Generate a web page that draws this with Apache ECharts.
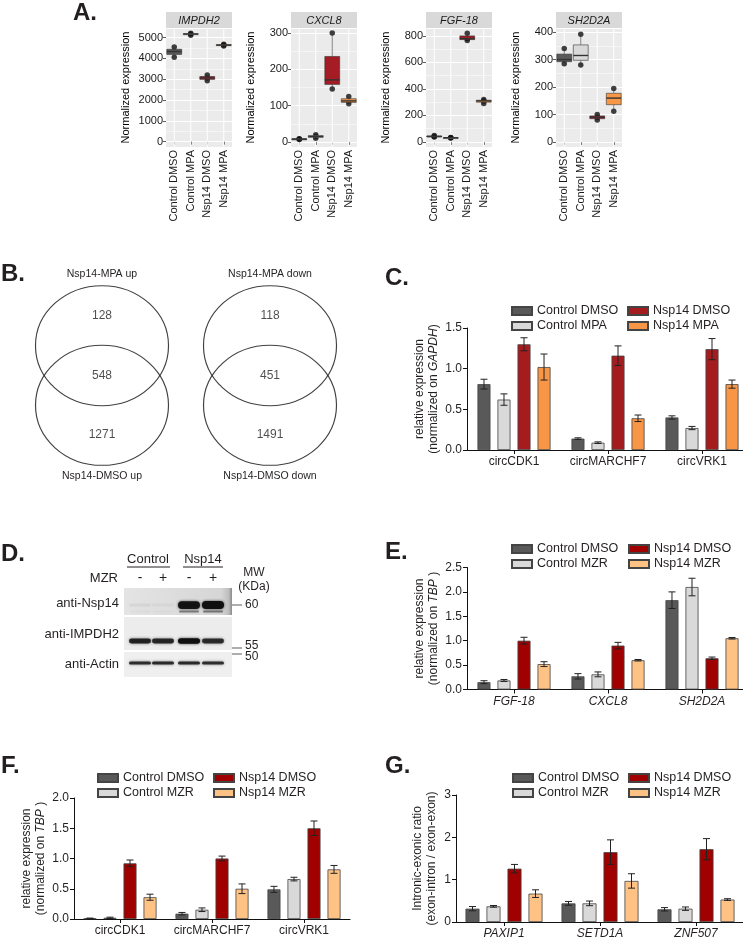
<!DOCTYPE html>
<html><head><meta charset="utf-8">
<script src="https://cdn.jsdelivr.net/npm/echarts@6/dist/echarts.min.js"></script>
<style>html,body{margin:0;padding:0;background:#fff}#c{width:743px;height:940px}</style>
</head><body><div id="c"></div>
<script>
// ---------------- DATA ----------------
// Panel A (replicate normalized expression values)
const aCategories = ['Control DMSO', 'Control MPA', 'Nsp14 DMSO', 'Nsp14 MPA'];
const aGenes = ['IMPDH2', 'CXCL8', 'FGF-18', 'SH2D2A'];
const aIMPDH2 = [[4050, 4330, 4550], [5110, 5170, 5210], [2920, 3060, 3200], [4600, 4640, 4680]];
const aCXCL8 = [[7, 8, 9], [10, 15, 20], [146, 171, 300], [105, 113, 125]];
const aFGF18 = [[38, 42, 48], [30, 32, 34], [765, 780, 820], [290, 310, 320]];
const aSH2D2A = [[285, 300, 340], [280, 315, 392], [80, 90, 100], [112, 160, 195]];

// Panel B (Venn counts)
const vennTop = ['Nsp14-MPA up', 'Nsp14-MPA down'];
const vennBottom = ['Nsp14-DMSO up', 'Nsp14-DMSO down'];
const vennMPAonly = [128, 118];
const vennBoth = [548, 451];
const vennDMSOonly = [1271, 1491];

// Panel C
const cCategories = ['circCDK1', 'circMARCHF7', 'circVRK1'];
const cNames = ['Control DMSO', 'Control MPA', 'Nsp14 DMSO', 'Nsp14 MPA'];
const cControlDMSO = [0.81, 0.14, 0.40];
const cControlMPA = [0.62, 0.09, 0.27];
const cNsp14DMSO = [1.30, 1.16, 1.24];
const cNsp14MPA = [1.02, 0.39, 0.81];
const cErrControlDMSO = [0.06, 0.01, 0.02];
const cErrControlMPA = [0.07, 0.01, 0.02];
const cErrNsp14DMSO = [0.08, 0.12, 0.13];
const cErrNsp14MPA = [0.16, 0.04, 0.05];
const cTicks = ['0.0', '0.5', '1.0', '1.5'];

// Panel D (western blot)
const dGroups = ['Control', 'Nsp14'];
const dMZR = ['-', '+', '-', '+'];
const dAntibodies = ['anti-Nsp14', 'anti-IMPDH2', 'anti-Actin'];
const dBandNsp14 = [0.05, 0.04, 0.95, 1.0];
const dBandIMPDH2 = [0.85, 0.82, 1.0, 0.8];
const dBandActin = [0.8, 0.82, 0.82, 0.8];
const dMW = ['60', '55', '50'];

// Panel E
const eCategories = ['FGF-18', 'CXCL8', 'SH2D2A'];
const mzrNames = ['Control DMSO', 'Control MZR', 'Nsp14 DMSO', 'Nsp14 MZR'];
const eControlDMSO = [0.15, 0.27, 1.83];
const eControlMZR = [0.185, 0.31, 2.10];
const eNsp14DMSO = [1.00, 0.90, 0.64];
const eNsp14MZR = [0.52, 0.60, 1.05];
const eErrControlDMSO = [0.03, 0.055, 0.17];
const eErrControlMZR = [0.02, 0.05, 0.18];
const eErrNsp14DMSO = [0.07, 0.066, 0.025];
const eErrNsp14MZR = [0.05, 0.015, 0.015];
const eTicks = ['0.0', '0.5', '1.0', '1.5', '2.0', '2.5'];

// Panel F
const fCategories = ['circCDK1', 'circMARCHF7', 'circVRK1'];
const fControlDMSO = [0.01, 0.088, 0.49];
const fControlMZR = [0.02, 0.153, 0.66];
const fNsp14DMSO = [0.92, 1.00, 1.50];
const fNsp14MZR = [0.36, 0.50, 0.82];
const fErrControlDMSO = [0.005, 0.02, 0.05];
const fErrControlMZR = [0.01, 0.03, 0.03];
const fErrNsp14DMSO = [0.055, 0.04, 0.12];
const fErrNsp14MZR = [0.05, 0.08, 0.065];
const fTicks = ['0.0', '0.5', '1.0', '1.5', '2.0'];

// Panel G
const gCategories = ['PAXIP1', 'SETD1A', 'ZNF507'];
const gControlDMSO = [0.315, 0.44, 0.30];
const gControlMZR = [0.37, 0.44, 0.315];
const gNsp14DMSO = [1.26, 1.65, 1.72];
const gNsp14MZR = [0.67, 0.97, 0.53];
const gErrControlDMSO = [0.05, 0.045, 0.04];
const gErrControlMZR = [0.02, 0.055, 0.04];
const gErrNsp14DMSO = [0.10, 0.29, 0.25];
const gErrNsp14MZR = [0.09, 0.17, 0.02];
const gTicks = ['0', '1', '2', '3'];

// ---------------- STYLE / LAYOUT ----------------
const FONT = "'Liberation Sans', Arial, Helvetica, sans-serif";
const INK = '#231F20';
const aFill = ['#595959', '#D9D9D9', '#A51C24', '#F79646'];
const cColors = ['#595959', '#D9D9D9', '#A51C1F', '#F79646'];
const mColors = ['#595959', '#D9D9D9', '#A00000', '#FFC285'];

const chart = echarts.init(document.getElementById('c'), null, {renderer: 'canvas', width: 743, height: 940});

const grid = [], xAxis = [], yAxis = [], series = [], legend = [], graphic = [];

function addGrid(g) {
  grid.push(Object.assign({containLabel: false, outerBoundsMode: 'none', show: false, borderWidth: 0}, g));
  return grid.length - 1;
}

// ---------- Panel A ----------
const aData = [aIMPDH2, aCXCL8, aFGF18, aSH2D2A];
const aLefts = [166, 291, 426, 556];
const aRanges = [[-260, 5460, 1000], [-14, 314, 100], [-38, 860, 200], [-18, 415, 100]];

function boxStats(arr) {
  const s = arr.slice().sort((p, q) => p - q);
  const med = s[1];
  return [s[0], (s[0] + med) / 2, med, (med + s[2]) / 2, s[2]];
}

aData.forEach((reps, k) => {
  const gi = addGrid({left: aLefts[k], top: 28, width: 66, height: 119, show: true, backgroundColor: '#EBEBEB'});
  const xi = xAxis.length;
  xAxis.push({
    type: 'category', gridIndex: gi, data: aCategories,
    axisLine: {show: false},
    axisTick: {show: true, alignWithLabel: true, length: 3, lineStyle: {color: '#333', width: 0.8}},
    axisLabel: {rotate: 90, interval: 0, fontSize: 11, fontFamily: FONT, color: '#1A1A1A', margin: 3},
    splitLine: {show: false}
  });
  const yi = yAxis.length;
  yAxis.push({
    type: 'value', gridIndex: gi, min: aRanges[k][0], max: aRanges[k][1],
    minInterval: aRanges[k][2], maxInterval: aRanges[k][2],
    axisLine: {show: false},
    axisTick: {show: true, length: 3, lineStyle: {color: '#333', width: 0.8}},
    axisLabel: {fontSize: 11, fontFamily: FONT, color: '#1A1A1A', margin: 3, showMinLabel: false, showMaxLabel: false,
      formatter: v => String(v)},
    splitLine: {show: true, lineStyle: {color: '#FFFFFF', width: 1}},
    minorSplitLine: {show: true, lineStyle: {color: '#FFFFFF', width: 0.5}},
    minorTick: {show: false, splitNumber: 2},
    name: 'Normalized expression', nameLocation: 'middle', nameGap: 35, nameMoveOverlap: false,
    nameTextStyle: {fontSize: 11, fontFamily: FONT, color: '#000'}
  });
  // white vertical grid lines at category centres
  series.push({
    type: 'custom', xAxisIndex: xi, yAxisIndex: yi, z: 1, silent: true,
    data: aCategories.map((c, i) => [i, 0]),
    renderItem: function (params, api) {
      const x = api.coord([api.value(0), 0])[0];
      const cs = params.coordSys;
      return {type: 'line', shape: {x1: x, y1: cs.y, x2: x, y2: cs.y + cs.height}, style: {stroke: '#FFFFFF', lineWidth: 1}};
    }
  });
  // replicate points (drawn beneath the boxes, as in the original ggplot)
  const pts = [];
  reps.forEach((r, i) => r.forEach(v => pts.push([i, v])));
  series.push({type: 'scatter', xAxisIndex: xi, yAxisIndex: yi, z: 2, silent: true, symbolSize: 5.5,
    itemStyle: {color: '#111111'}, data: pts});
  // boxes
  series.push({
    type: 'custom', xAxisIndex: xi, yAxisIndex: yi, z: 3, silent: true,
    data: reps.map((r, i) => [i].concat(boxStats(r))),
    encode: {x: 0, y: [1, 2, 3, 4, 5]},
    renderItem: function (params, api) {
      const i = api.value(0);
      const c = v => api.coord([i, v]);
      const w = api.size([1, 0])[0] * 0.9;
      const pMin = c(api.value(1)), pQ1 = c(api.value(2)), pMd = c(api.value(3)), pQ3 = c(api.value(4)), pMax = c(api.value(5));
      const x = pMd[0];
      const st = {stroke: '#333333', lineWidth: 0.6};
      return {type: 'group', children: [
        {type: 'line', shape: {x1: x, y1: pMax[1], x2: x, y2: pQ3[1]}, style: st},
        {type: 'line', shape: {x1: x, y1: pQ1[1], x2: x, y2: pMin[1]}, style: st},
        {type: 'rect', shape: {x: x - w / 2, y: pQ3[1], width: w, height: Math.max(pQ1[1] - pQ3[1], 1)}, style: {fill: aFill[i], stroke: '#333333', lineWidth: 0.6}},
        {type: 'line', shape: {x1: x - w / 2, y1: pMd[1], x2: x + w / 2, y2: pMd[1]}, style: {stroke: '#333333', lineWidth: 1.4}}
      ]};
    }
  });
  // strip
  graphic.push({type: 'rect', shape: {x: aLefts[k], y: 12, width: 66, height: 16}, style: {fill: '#D9D9D9'}, silent: true});
  graphic.push({type: 'text', x: aLefts[k] + 33, y: 20.5, silent: true,
    style: {text: aGenes[k], font: 'italic 11px ' + FONT, fill: '#1A1A1A', align: 'center', verticalAlign: 'middle'}});
});

// ---------- Panel B (Venn) ----------
(function () {
  const gi = addGrid({left: 18, top: 283, width: 336, height: 185});
  const xi = xAxis.length;
  xAxis.push({type: 'category', gridIndex: gi, position: 'top', data: vennTop,
    axisLine: {show: false}, axisTick: {show: false}, splitLine: {show: false},
    axisLabel: {fontSize: 10.5, fontFamily: FONT, color: INK, margin: 3, interval: 0}});
  xAxis.push({type: 'category', gridIndex: gi, position: 'bottom', data: vennBottom,
    axisLine: {show: false}, axisTick: {show: false}, splitLine: {show: false},
    axisLabel: {fontSize: 10.5, fontFamily: FONT, color: INK, margin: 3, interval: 0}});
  const yi = yAxis.length;
  yAxis.push({type: 'value', gridIndex: gi, min: 0.45, max: 3.55, inverse: true, show: false, splitLine: {show: false}});
  const circles = [];
  vennTop.forEach((t, i) => { circles.push([i, 1.5]); circles.push([i, 2.5]); });
  series.push({type: 'scatter', xAxisIndex: xi, yAxisIndex: yi, silent: true, symbol: 'circle', symbolSize: [133, 120],
    itemStyle: {color: 'rgba(0,0,0,0)', borderColor: '#111', borderWidth: 1.1}, data: circles});
  const nums = [];
  vennTop.forEach((t, i) => {
    nums.push([i, 1, vennMPAonly[i]]);
    nums.push([i, 2, vennBoth[i]]);
    nums.push([i, 3, vennDMSOonly[i]]);
  });
  series.push({type: 'scatter', xAxisIndex: xi, yAxisIndex: yi, silent: true, symbolSize: 0, data: nums,
    label: {show: true, position: 'inside', formatter: p => String(p.value[2]), fontSize: 12, fontFamily: FONT, color: INK}});
})();

// ---------- Bar panels (C, E, F, G) ----------
function barPanel(opt) {
  const gi = addGrid(opt.grid);
  const xi = xAxis.length;
  xAxis.push({type: 'category', gridIndex: gi, data: opt.cats,
    axisLine: {show: true, lineStyle: {color: '#111', width: 1}},
    axisTick: {show: true, alignWithLabel: true, length: 4, lineStyle: {color: '#111', width: 1}},
    axisLabel: {interval: 0, fontSize: 12, fontFamily: FONT, color: INK, margin: 6, fontStyle: opt.italic ? 'italic' : 'normal'},
    splitLine: {show: false}});
  const yi = yAxis.length;
  yAxis.push({type: 'value', gridIndex: gi, min: 0, max: opt.yMax, interval: opt.yInt,
    axisLine: {show: true, lineStyle: {color: '#111', width: 1}},
    axisTick: {show: true, length: 4, lineStyle: {color: '#111', width: 1}},
    axisLabel: {fontSize: 12, fontFamily: FONT, color: INK, margin: 5,
      formatter: v => opt.ticks[Math.round(v / opt.yInt)]},
    splitLine: {show: false},
    name: opt.yName, nameLocation: 'middle', nameGap: opt.nameGap, nameMoveOverlap: false,
    nameTextStyle: {rich: {
      n: {fontSize: 12, fontFamily: FONT, color: INK, lineHeight: 14},
      i: {fontSize: 12, fontFamily: FONT, color: INK, lineHeight: 14, fontStyle: 'italic'}
    }}});
  const bw = opt.barWidth, gapPx = opt.barWidth * opt.gapRatio;
  opt.values.forEach((vals, k) => {
    series.push({type: 'bar', name: opt.names[k], xAxisIndex: xi, yAxisIndex: yi, data: vals,
      barWidth: bw, barGap: (opt.gapRatio * 100) + '%', silent: true,
      itemStyle: {color: opt.colors[k], borderColor: '#444', borderWidth: 0.8}});
  });
  opt.values.forEach((vals, k) => {
    series.push({type: 'custom', xAxisIndex: xi, yAxisIndex: yi, z: 5, silent: true,
      data: vals.map((v, i) => [i, v, opt.errs[k][i]]),
      encode: {x: 0, y: 1},
      renderItem: function (params, api) {
        const i = api.value(0), v = api.value(1), e = api.value(2);
        const cx = api.coord([i, v])[0] + (k - 1.5) * (bw + gapPx);
        const yt = api.coord([i, v + e])[1], yb = api.coord([i, Math.max(v - e, 0)])[1];
        const cap = 3.5, st = {stroke: '#222', lineWidth: 1};
        return {type: 'group', children: [
          {type: 'line', shape: {x1: cx, y1: yt, x2: cx, y2: yb}, style: st},
          {type: 'line', shape: {x1: cx - cap, y1: yt, x2: cx + cap, y2: yt}, style: st},
          {type: 'line', shape: {x1: cx - cap, y1: yb, x2: cx + cap, y2: yb}, style: st}
        ]};
      }});
  });
  const ls = {orient: 'vertical', itemWidth: 20, itemHeight: 8, itemGap: 1, selectedMode: false, padding: 0, icon: 'rect',
    textStyle: {fontSize: 12.5, fontFamily: FONT, color: INK, lineHeight: 14}};
  legend.push(Object.assign({}, ls, {left: opt.legend[0], top: opt.legend[2],
    data: [{name: opt.names[0], itemStyle: {color: opt.colors[0]}}, {name: opt.names[1], itemStyle: {color: opt.colors[1]}}]}));
  legend.push(Object.assign({}, ls, {left: opt.legend[1], top: opt.legend[2],
    data: [{name: opt.names[2], itemStyle: {color: opt.colors[2]}}, {name: opt.names[3], itemStyle: {color: opt.colors[3]}}]}));
}

barPanel({grid: {left: 467, top: 328, width: 282, height: 122}, cats: cCategories, italic: false,
  yMax: 1.5, yInt: 0.5, ticks: cTicks, nameGap: 26,
  yName: '{n|relative expression}\n{n|(normalized on }{i|GAPDH}{n|)}',
  names: cNames, colors: cColors, barWidth: 13, gapRatio: 0.54,
  values: [cControlDMSO, cControlMPA, cNsp14DMSO, cNsp14MPA],
  errs: [cErrControlDMSO, cErrControlMPA, cErrNsp14DMSO, cErrNsp14MPA],
  legend: [511, 627, 304]});

barPanel({grid: {left: 467, top: 567.5, width: 282, height: 122}, cats: eCategories, italic: true,
  yMax: 2.5, yInt: 0.5, ticks: eTicks, nameGap: 26,
  yName: '{n|relative expression}\n{n|(normalized on }{i|TBP}{n| )}',
  names: mzrNames, colors: mColors, barWidth: 13, gapRatio: 0.54,
  values: [eControlDMSO, eControlMZR, eNsp14DMSO, eNsp14MZR],
  errs: [eErrControlDMSO, eErrControlMZR, eErrNsp14DMSO, eErrNsp14MZR],
  legend: [511, 628, 542]});

barPanel({grid: {left: 74, top: 798, width: 276, height: 121}, cats: fCategories, italic: false,
  yMax: 2.0, yInt: 0.5, ticks: fTicks, nameGap: 26,
  yName: '{n|relative expression}\n{n|(normalized on }{i|TBP}{n| )}',
  names: mzrNames, colors: mColors, barWidth: 13, gapRatio: 0.54,
  values: [fControlDMSO, fControlMZR, fNsp14DMSO, fNsp14MZR],
  errs: [fErrControlDMSO, fErrControlMZR, fErrNsp14DMSO, fErrNsp14MZR],
  legend: [97, 213, 771]});

barPanel({grid: {left: 456, top: 795, width: 288, height: 127}, cats: gCategories, italic: true,
  yMax: 3, yInt: 1, ticks: gTicks, nameGap: 17,
  yName: '{n|Intronic-exonic ratio}\n{n|(exon-intron / exon-exon)}',
  names: mzrNames, colors: mColors, barWidth: 14, gapRatio: 0.5,
  values: [gControlDMSO, gControlMZR, gNsp14DMSO, gNsp14MZR],
  errs: [gErrControlDMSO, gErrControlMZR, gErrNsp14DMSO, gErrNsp14MZR],
  legend: [512, 628, 771]});

// ---------- Panel D (western blot) ----------
(function () {
  const laneX = [140, 163, 189, 213];
  const t = (text, x, y, align, size, extra) => graphic.push(Object.assign({type: 'text', x: x, y: y, silent: true,
    style: {text: text, font: (size || 13) + 'px ' + FONT, fill: INK, align: align || 'center', verticalAlign: 'middle'}}, extra || {}));
  t(dGroups[0], 148, 559); t(dGroups[1], 203, 559);
  graphic.push({type: 'line', shape: {x1: 127, y1: 567, x2: 170, y2: 567}, style: {stroke: INK, lineWidth: 1}, silent: true});
  graphic.push({type: 'line', shape: {x1: 183, y1: 567, x2: 223, y2: 567}, style: {stroke: INK, lineWidth: 1}, silent: true});
  t('MZR', 118, 578, 'right');
  dMZR.forEach((s, i) => t(s, laneX[i], 578, 'center', 14));
  t('MW', 254, 573, 'center', 12); t('(KDa)', 254, 587, 'center', 12);
  // blot membranes
  graphic.push({type: 'rect', shape: {x: 124, y: 588, width: 108, height: 27}, silent: true,
    style: {fill: new echarts.graphic.LinearGradient(0, 0, 1, 0, [{offset: 0, color: '#e4e4e4'}, {offset: 0.9, color: '#d6d6d6'}, {offset: 0.97, color: '#bdbdbd'}, {offset: 1, color: '#8a8a8a'}])}});
  graphic.push({type: 'rect', shape: {x: 124, y: 617, width: 108, height: 33}, silent: true, style: {fill: '#ececec'}});
  graphic.push({type: 'rect', shape: {x: 124, y: 652, width: 108, height: 25}, silent: true, style: {fill: '#efefef'}});
  t(dAntibodies[0], 119, 603, 'right'); t(dAntibodies[1], 119, 634, 'right'); t(dAntibodies[2], 119, 664, 'right');
  const band = (x, y, w, h, a) => graphic.push({type: 'rect', silent: true, shape: {x: x - w / 2, y: y - h / 2, width: w, height: h, r: h / 2},
    style: {fill: 'rgba(15,15,15,' + a + ')', shadowBlur: 3, shadowColor: 'rgba(15,15,15,' + (a * 0.8) + ')'}});
  dBandNsp14.forEach((a, i) => {
    band(laneX[i], 605, 22, 3 + 5 * a, a);
    band(laneX[i], 611.5, 20, 2, a * 0.45);
  });
  dBandIMPDH2.forEach((a, i) => band(laneX[i], 641, 22, 2 + 3.5 * a, a));
  dBandActin.forEach((a, i) => band(laneX[i], 663, 22, 3, a));
  const mk = (y) => graphic.push({type: 'line', shape: {x1: 232, y1: y, x2: 242, y2: y}, style: {stroke: '#333', lineWidth: 0.8}, silent: true});
  mk(605); mk(648); mk(654);
  t(dMW[0], 245, 605, 'left', 12); t(dMW[1], 245, 646, 'left', 12); t(dMW[2], 245, 656.5, 'left', 12);
})();

// ---------- Panel letters ----------
[['A.', 73, 13.5], ['B.', 1, 274], ['C.', 385, 278], ['D.', 1, 554], ['E.', 385, 552], ['F.', 1, 766], ['G.', 385, 766]].forEach(l => {
  graphic.push({type: 'text', x: l[1], y: l[2], silent: true,
    style: {text: l[0], font: 'bold 24px ' + FONT, fill: INK, align: 'left', verticalAlign: 'middle'}});
});

chart.setOption({
  animation: false,
  backgroundColor: '#FFFFFF',
  textStyle: {fontFamily: FONT},
  grid: grid, xAxis: xAxis, yAxis: yAxis, series: series, legend: legend, graphic: graphic
});
</script>
</body></html>
